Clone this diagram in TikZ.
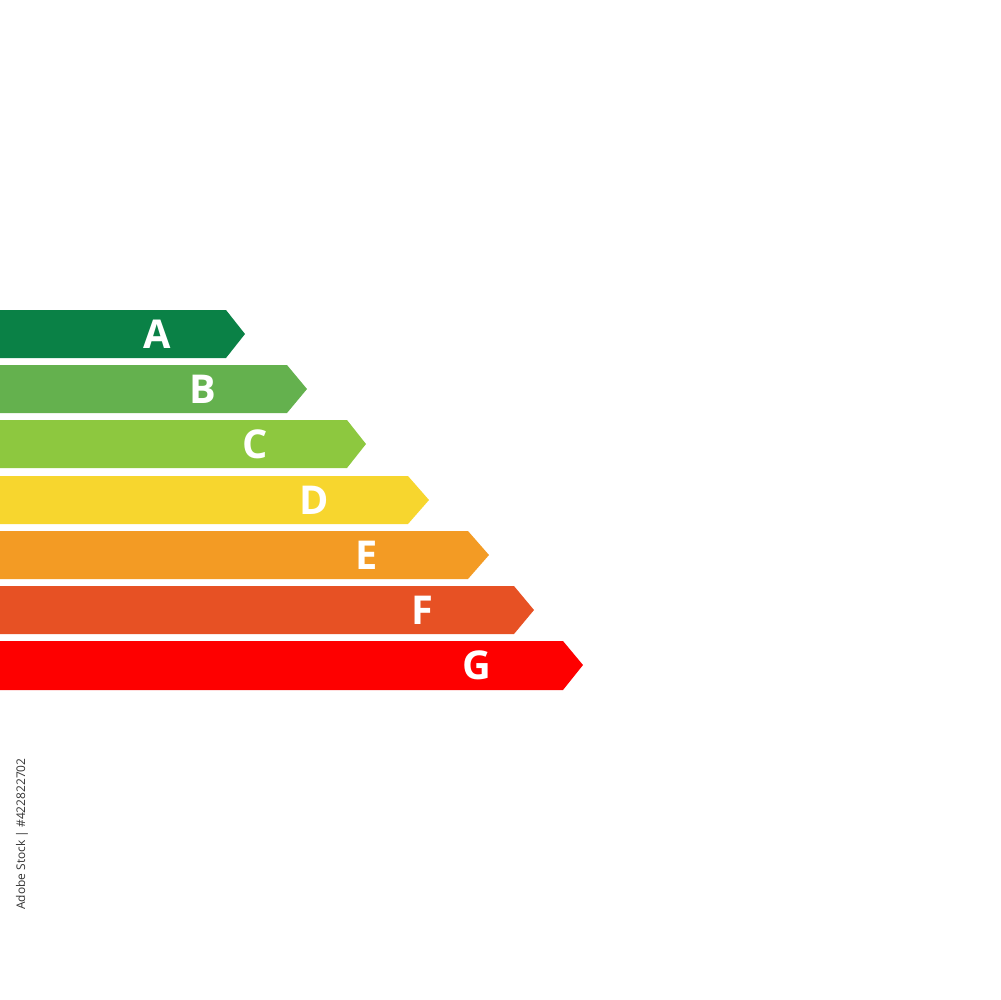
\documentclass[tikz,border=0pt]{standalone}
\usepackage{fontspec}
\setmainfont{Open Sans}
\usepackage{tikz}

\definecolor{classA}{RGB}{10,129,70}
\definecolor{classB}{RGB}{100,177,78}
\definecolor{classC}{RGB}{141,200,63}
\definecolor{classD}{RGB}{247,214,46}
\definecolor{classE}{RGB}{243,155,36}
\definecolor{classF}{RGB}{231,81,36}
\definecolor{classG}{RGB}{254,0,0}

\tikzset{
  letter/.style={text=white, font=\fontsize{11.3}{13}\selectfont\bfseries, inner sep=0pt},
  stockid/.style={text=black!80, font=\fontsize{3.4}{4}\selectfont, rotate=90, inner sep=0pt}
}

\begin{document}
\begin{tikzpicture}[x=0.1mm, y=-0.1mm]
\useasboundingbox (0,0) rectangle (1000,1000);
\fill[classA] (0,310) -- (226,310) -- (245,334) -- (226,358) -- (0,358) -- cycle;
\fill[classB] (0,365) -- (287,365) -- (307,389) -- (287,413) -- (0,413) -- cycle;
\fill[classC] (0,420) -- (347,420) -- (366,444) -- (347,468) -- (0,468) -- cycle;
\fill[classD] (0,476) -- (408,476) -- (429,500) -- (408,524) -- (0,524) -- cycle;
\fill[classE] (0,531) -- (468,531) -- (489,555) -- (468,579) -- (0,579) -- cycle;
\fill[classF] (0,586) -- (514,586) -- (534,610) -- (514,634) -- (0,634) -- cycle;
\fill[classG] (0,641) -- (563,641) -- (583,665) -- (563,690) -- (0,690) -- cycle;
\node[letter] (a) at (157,334) {A};
\node[letter] (b) at (203,389) {B};
\node[letter] (c) at (255,444) {C};
\node[letter] (d) at (314,500) {D};
\node[letter] (e) at (367,555) {E};
\node[letter] (f) at (422,610) {F};
\node[letter] (g) at (477,665) {G};
\node[stockid] (id) at (22,834) {Adobe Stock | \#422822702};
\end{tikzpicture}
\end{document}
